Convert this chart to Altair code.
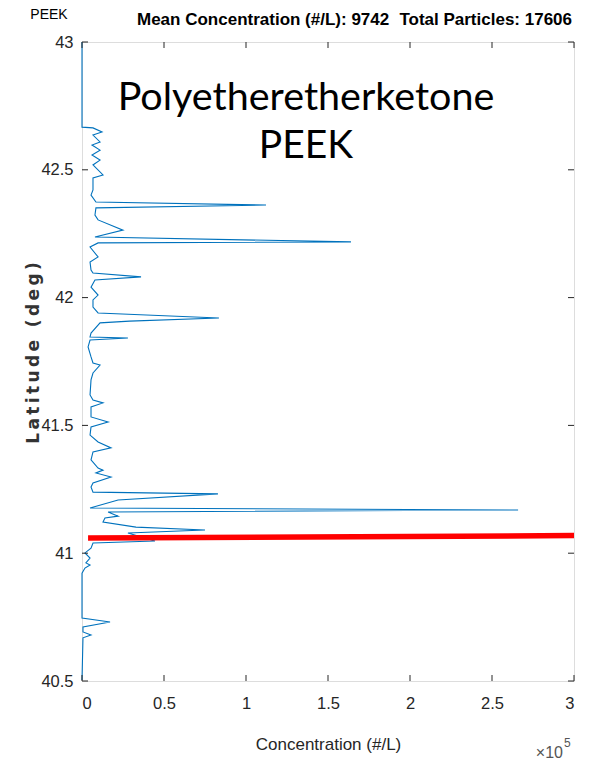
import altair as alt
import pandas as pd

# Concentration profile along the track: latitude (deg) and concentration (x 10^5 #/L)
lat = [43.000, 42.667, 42.664, 42.648, 42.636, 42.609, 42.597, 42.577, 42.558, 42.538,
       42.519, 42.480, 42.468, 42.421, 42.401, 42.374, 42.362, 42.351, 42.323, 42.304,
       42.264, 42.237, 42.218, 42.214, 42.198, 42.159, 42.139, 42.108, 42.096, 42.081,
       42.069, 42.041, 42.010, 41.991, 41.963, 41.940, 41.920, 41.908, 41.901, 41.861,
       41.846, 41.842, 41.834, 41.807, 41.768, 41.744, 41.736, 41.705, 41.678, 41.619,
       41.599, 41.588, 41.572, 41.533, 41.513, 41.494, 41.462, 41.435, 41.412, 41.396,
       41.365, 41.333, 41.325, 41.314, 41.298, 41.275, 41.259, 41.239, 41.232, 41.208,
       41.177, 41.169, 41.161, 41.145, 41.138, 41.122, 41.102, 41.091, 41.079, 41.048,
       41.040, 41.020, 41.001, 40.981, 40.962, 40.954, 40.942, 40.922, 40.746, 40.731,
       40.711, 40.692, 40.680, 40.669, 40.504]
conc = [0.000, 0.000, 0.067, 0.122, 0.067, 0.110, 0.061, 0.110, 0.061, 0.110,
        0.067, 0.128, 0.067, 0.067, 0.055, 0.085, 1.122, 0.085, 0.079, 0.098,
        0.250, 0.079, 1.640, 0.098, 0.049, 0.098, 0.049, 0.055, 0.067, 0.360,
        0.079, 0.055, 0.098, 0.067, 0.067, 0.098, 0.835, 0.290, 0.110, 0.055,
        0.049, 0.280, 0.049, 0.037, 0.055, 0.067, 0.110, 0.067, 0.055, 0.049,
        0.067, 0.128, 0.055, 0.055, 0.159, 0.055, 0.049, 0.098, 0.177, 0.067,
        0.055, 0.098, 0.128, 0.085, 0.177, 0.067, 0.055, 0.067, 0.829, 0.220,
        0.049, 2.659, 0.159, 0.220, 0.140, 0.128, 0.329, 0.750, 0.280, 0.445,
        0.067, 0.055, 0.018, 0.049, 0.024, 0.049, 0.018, 0.000, 0.000, 0.171,
        0.006, 0.006, 0.055, 0.006, 0.000]

# Red reference line across the panel
marker_conc = [0.037, 3.0]
marker_lat = [41.0595, 41.069]

x_ticks = [0, 0.5, 1, 1.5, 2, 2.5, 3]
y_ticks = [40.5, 41, 41.5, 42, 42.5, 43]

panel_tag = "PEEK"
title_left = "Mean Concentration (#/L): 9742"
title_right = "Total Particles: 17606"
banner = ["Polyetheretherketone", "PEEK"]
x_title = "Concentration (#/L)"
# letter-spaced axis title (thin spaces between glyphs)
y_title = "\u2009".join("Latitude (deg)")

W, H = 492, 639
SANS = "Liberation Sans, Arial, sans-serif"
INK = "#262626"

profile = pd.DataFrame({"lat": lat, "conc": conc, "seq": list(range(len(lat)))})
marker = pd.DataFrame({"lat": marker_lat, "conc": marker_conc, "seq": [0, 1]})

xs = alt.Scale(domain=[0, 3], nice=False, zero=False)
ys = alt.Scale(domain=[40.5, 43], nice=False, zero=False)

x_axis = alt.Axis(
    values=x_ticks, format="~g", title=x_title, grid=False, domain=False, ticks=False,
    labelFont=SANS, labelFontSize=16.5, labelColor=INK, labelPadding=14,
    titleFont=SANS, titleFontSize=17, titleFontWeight="normal", titleColor=INK,
    titleX=W / 2, titleY=63, titleBaseline="middle", titleAlign="center")
y_axis = alt.Axis(
    values=y_ticks, format="~g", title=y_title, grid=False, domain=False, ticks=False,
    labelFont=SANS, labelFontSize=16.5, labelColor=INK, labelPadding=9,
    titleFont="DejaVu Sans", titleFontSize=17, titleFontWeight="bold", titleColor="#333333",
    titleX=-49, titleY=H / 2 - 9, titleAngle=270, titleBaseline="middle", titleAlign="center")

line = alt.Chart(profile).mark_line(color="#0072BD", strokeWidth=1.1).encode(
    x=alt.X("conc:Q", scale=xs, axis=x_axis),
    y=alt.Y("lat:Q", scale=ys, axis=y_axis),
    order="seq:Q",
)

red = alt.Chart(marker).mark_line(color="#FF0000", strokeWidth=5.5).encode(
    x=alt.X("conc:Q", scale=xs, axis=x_axis),
    y=alt.Y("lat:Q", scale=ys, axis=y_axis),
    order="seq:Q",
)

# Inward tick marks on all four sides of the box
xt = pd.DataFrame({"conc": x_ticks})
yt = pd.DataFrame({"lat": y_ticks})
tick_style = dict(color=INK, strokeWidth=1)
ticks_bottom = alt.Chart(xt).mark_rule(**tick_style).encode(
    x=alt.X("conc:Q", scale=xs, axis=x_axis), y=alt.value(H), y2=alt.value(H - 6))
ticks_top = alt.Chart(xt).mark_rule(**tick_style).encode(
    x=alt.X("conc:Q", scale=xs, axis=x_axis), y=alt.value(0), y2=alt.value(6))
ticks_left = alt.Chart(yt).mark_rule(**tick_style).encode(
    y=alt.Y("lat:Q", scale=ys, axis=y_axis), x=alt.value(0), x2=alt.value(6))
ticks_right = alt.Chart(yt).mark_rule(**tick_style).encode(
    y=alt.Y("lat:Q", scale=ys, axis=y_axis), x=alt.value(W), x2=alt.value(W - 6))


def label(text, x, y, **kw):
    return alt.Chart(pd.DataFrame({"t": [text]})).mark_text(**kw).encode(
        x=alt.value(x), y=alt.value(y), text="t:N")


texts = [
    label(panel_tag, -33, -23, font=SANS, fontSize=14, color="#000000",
          align="center", baseline="alphabetic"),
    label(title_left, 55, -17, font=SANS, fontSize=17, fontWeight="bold", color="#000000",
          align="left", baseline="alphabetic"),
    label(title_right, 490, -17, font=SANS, fontSize=17, fontWeight="bold", color="#000000",
          align="right", baseline="alphabetic"),
    label(banner[0], 224, 68, font="Lato", fontSize=39.5, color="#000000",
          align="center", baseline="alphabetic"),
    label(banner[1], 224, 116, font="Lato", fontSize=39, color="#000000",
          align="center", baseline="alphabetic"),
    label("\u00d710", 481, H + 77, font=SANS, fontSize=16, color="#555555",
          align="right", baseline="alphabetic"),
    label("5", 482, H + 66, font=SANS, fontSize=12, color="#555555",
          align="left", baseline="alphabetic"),
]

chart = alt.layer(
    line, red, ticks_bottom, ticks_top, ticks_left, ticks_right, *texts
).properties(
    width=W, height=H,
    autosize=alt.AutoSizeParams(type="none"),
    padding={"left": 82, "top": 42, "right": 20, "bottom": 79},
).configure_view(
    stroke="#5f5f5f", strokeWidth=1
).configure(background="white")

chart.save("out.html", embed_options={"renderer": "svg", "actions": False})
